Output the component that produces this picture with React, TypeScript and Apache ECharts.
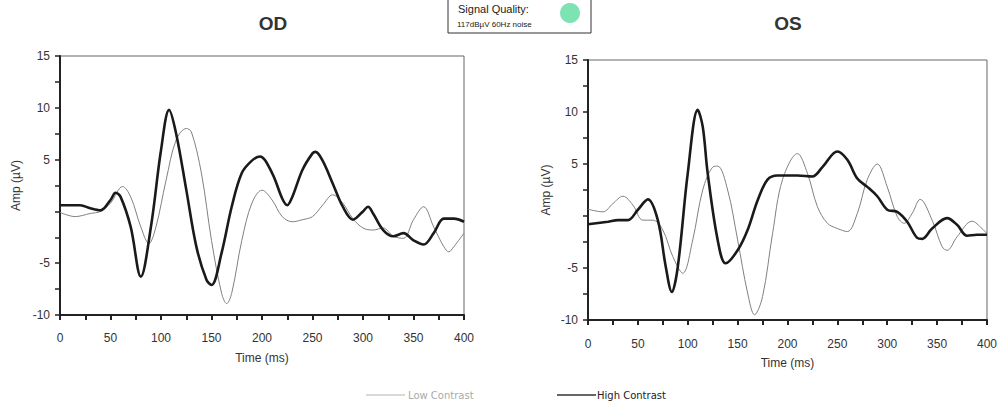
import React, { useEffect, useRef } from "react";
import * as echarts from "echarts";

// OD (left eye)
const odHighT = [0, 20, 30, 40, 50, 55, 60, 70, 80, 90, 100, 108, 115, 125, 135, 145, 150, 160, 170, 180, 190, 198, 210, 220, 225, 230, 240, 250, 253, 260, 270, 280, 290, 300, 305, 310, 320, 330, 340, 350, 360, 370, 380, 390, 400];
const odHighV = [0.6, 0.6, 0.3, 0.1, 1.1, 1.8, 1.4, -1.5, -6.3, -1.5, 5.9, 9.8, 7.5, 2.1, -3.4, -6.6, -7.1, -4.0, 0.45, 3.7, 4.9, 5.3, 3.7, 1.25, 0.6, 1.4, 4.0, 5.6, 5.75, 4.9, 2.7, 0.45, -0.8, 0.0, 0.45, -0.2, -1.8, -2.4, -2.1, -2.8, -3.2, -2.1, -0.7, -0.7, -1.0];
const odLowT = [0, 15, 30, 40, 50, 62, 70, 80, 88, 95, 105, 115, 125, 130, 140, 150, 160, 165, 170, 180, 190, 200, 210, 220, 230, 240, 250, 260, 270, 280, 290, 300, 310, 320, 330, 340, 350, 360, 370, 380, 385, 390, 400];
const odLowV = [-0.1, -0.5, -0.2, 0.0, 0.8, 2.4, 1.4, -1.5, -3.1, -1.5, 3.0, 6.9, 8.0, 7.7, 3.7, -2.8, -7.9, -8.9, -7.9, -2.8, 0.8, 2.05, 1.1, -0.5, -1.0, -0.8, -0.5, 0.6, 1.6, 0.8, -0.7, -1.6, -1.8, -1.6, -2.4, -2.6, -0.8, 0.45, -1.5, -3.4, -3.9, -3.4, -2.1];

// OS (right eye)
const osHighT = [0, 20, 30, 40, 50, 60, 70, 78, 84, 90, 100, 110, 115, 120, 130, 138, 150, 160, 170, 180, 190, 200, 210, 225, 235, 250, 260, 270, 280, 290, 300, 310, 320, 330, 335, 345, 360, 370, 380, 390, 400];
const osHighV = [-0.8, -0.55, -0.4, -0.4, 0.6, 1.6, -0.4, -4.9, -7.3, -4.9, 4.1, 10.2, 8.6, 4.1, -2.3, -4.55, -3.3, -1.35, 1.5, 3.5, 3.9, 3.9, 3.9, 3.8, 4.7, 6.2, 5.4, 3.6, 2.8, 1.9, 0.6, 0.4, -0.55, -2.1, -2.2, -1.2, -0.2, -0.85, -1.9, -1.8, -1.8];
const osLowT = [0, 15, 25, 35, 45, 55, 65, 75, 85, 95, 105, 115, 125, 130, 140, 150, 160, 167, 175, 185, 195, 210, 220, 230, 240, 250, 260, 270, 280, 290, 300, 310, 317, 325, 333, 345, 355, 360, 370, 385, 395, 400];
const osLowV = [0.65, 0.4, 1.2, 1.9, 1.05, -0.4, -0.4, -1.35, -3.9, -5.5, -2.3, 2.5, 4.7, 4.8, 2.5, -2.3, -7.4, -9.5, -7.75, -1.7, 3.5, 6.0, 4.1, 0.9, -0.7, -1.2, -1.5, 0.25, 3.5, 5.0, 2.8, -0.05, -0.7, 0.25, 1.6, -0.4, -2.95, -3.3, -2.0, -0.5, -1.2, -1.7];

const xTickLabels = [0, 50, 100, 150, 200, 250, 300, 350, 400];
const yTickLabels = [15, 10, 5, -5, -10];
const panelTitles = ["OD", "OS"];
const seriesNames = ["Low Contrast", "High Contrast"];

function pairs(t: number[], v: number[]) {
  return t.map((x, i) => [x, v[i]]);
}

export default function App() {
  const ref = useRef<HTMLDivElement>(null);
  useEffect(() => {
    document.body.style.margin = "0";
    const chart = echarts.init(ref.current!, null, { renderer: "svg" });
    const axisFont = { fontFamily: "'Liberation Sans Narrow', 'Liberation Sans', sans-serif", fontSize: 12, color: "#333" };
    const makeX = (gridIndex: number, margin: number, gap: number) => ({
      type: "value",
      gridIndex,
      min: 0,
      max: 400,
      interval: 25,
      name: "Time (ms)",
      nameLocation: "middle",
      nameGap: gap,
      nameTextStyle: { ...axisFont },
      axisLine: { show: true, onZero: false, lineStyle: { color: "#222", width: 2 } },
      axisTick: { show: true, length: 5, lineStyle: { color: "#222", width: 2 } },
      axisLabel: {
        ...axisFont,
        margin,
        formatter: (v: number) => (xTickLabels.includes(v) ? String(v) : ""),
      },
      splitLine: { show: false },
    });
    const makeY = (gridIndex: number, gap: number) => ({
      type: "value",
      gridIndex,
      min: -10,
      max: 15,
      interval: 2.5,
      name: "Amp (µV)",
      nameLocation: "middle",
      nameGap: gap,
      nameTextStyle: { ...axisFont },
      axisLine: { show: true, onZero: false, lineStyle: { color: "#222", width: 2 } },
      axisTick: { show: true, length: 5, lineStyle: { color: "#222", width: 1.5 } },
      axisLabel: {
        ...axisFont,
        margin: 10,
        formatter: (v: number) => (yTickLabels.includes(v) ? String(v) : ""),
      },
      splitLine: { show: false },
    });
    const lowStyle = { color: "#808080", width: 1 };
    const highStyle = { color: "#1a1a1a", width: 2.6 };
    const mk = (name: string, xi: number, data: number[][], ls: any) => ({
      name,
      type: "line",
      xAxisIndex: xi,
      yAxisIndex: xi,
      data,
      smooth: 0.35,
      symbol: "none",
      lineStyle: ls,
      itemStyle: { color: ls.color },
      z: name === seriesNames[1] ? 3 : 2,
    });
    chart.setOption({
      animation: false,
      backgroundColor: "#fff",
      title: [
        {
          text: panelTitles[0],
          left: 268,
          top: 9,
          textAlign: "center",
          textStyle: { fontFamily: "Liberation Sans", fontWeight: "bold", fontSize: 19, color: "#333" },
        },
        {
          text: panelTitles[1],
          left: 783,
          top: 9,
          textAlign: "center",
          textStyle: { fontFamily: "Liberation Sans", fontWeight: "bold", fontSize: 19, color: "#333" },
        },
      ],
      grid: [
        { left: 60, top: 56, width: 404, height: 259, show: true, borderColor: "#666", borderWidth: 1 },
        { left: 588, top: 60, width: 400, height: 260, show: true, borderColor: "#666", borderWidth: 1 },
      ],
      xAxis: [makeX(0, 17, 37), makeX(1, 18, 37)],
      yAxis: [makeY(0, 38), makeY(1, 36)],
      series: [
        mk(seriesNames[0], 0, pairs(odLowT, odLowV), lowStyle),
        mk(seriesNames[1], 0, pairs(odHighT, odHighV), highStyle),
        mk(seriesNames[0], 1, pairs(osLowT, osLowV), lowStyle),
        mk(seriesNames[1], 1, pairs(osHighT, osHighV), highStyle),
      ],
      graphic: [
        {
          type: "rect",
          shape: { x: 448, y: -1, width: 143, height: 34 },
          style: { fill: "#fff", stroke: "#333", lineWidth: 1 },
        },
        {
          type: "text",
          x: 458,
          y: 3,
          style: { text: "Signal Quality:", fontFamily: "Liberation Sans", fontSize: 11, fill: "#222" },
        },
        {
          type: "text",
          x: 457,
          y: 20,
          style: { text: "117dBµV 60Hz noise", fontFamily: "Liberation Sans", fontSize: 8, fill: "#222" },
        },
        {
          type: "circle",
          shape: { cx: 570, cy: 13, r: 10 },
          style: { fill: "#7de3b3" },
        },
        // legend
        {
          type: "line",
          shape: { x1: 366, y1: 395, x2: 405, y2: 395 },
          style: { stroke: "#ccc", lineWidth: 1.5 },
        },
        {
          type: "text",
          x: 408,
          y: 395,
          style: { text: seriesNames[0], fontFamily: "DejaVu Sans", fontSize: 10, fill: "#aaa", verticalAlign: "middle" },
        },
        {
          type: "line",
          shape: { x1: 557, y1: 395, x2: 596, y2: 395 },
          style: { stroke: "#333", lineWidth: 1.5 },
        },
        {
          type: "text",
          x: 597,
          y: 395,
          style: { text: seriesNames[1], fontFamily: "DejaVu Sans", fontSize: 10, fill: "#222", verticalAlign: "middle" },
        },
      ],
    });
    return () => chart.dispose();
  }, []);
  return <div ref={ref} style={{ width: 1000, height: 405 }} />;
}
